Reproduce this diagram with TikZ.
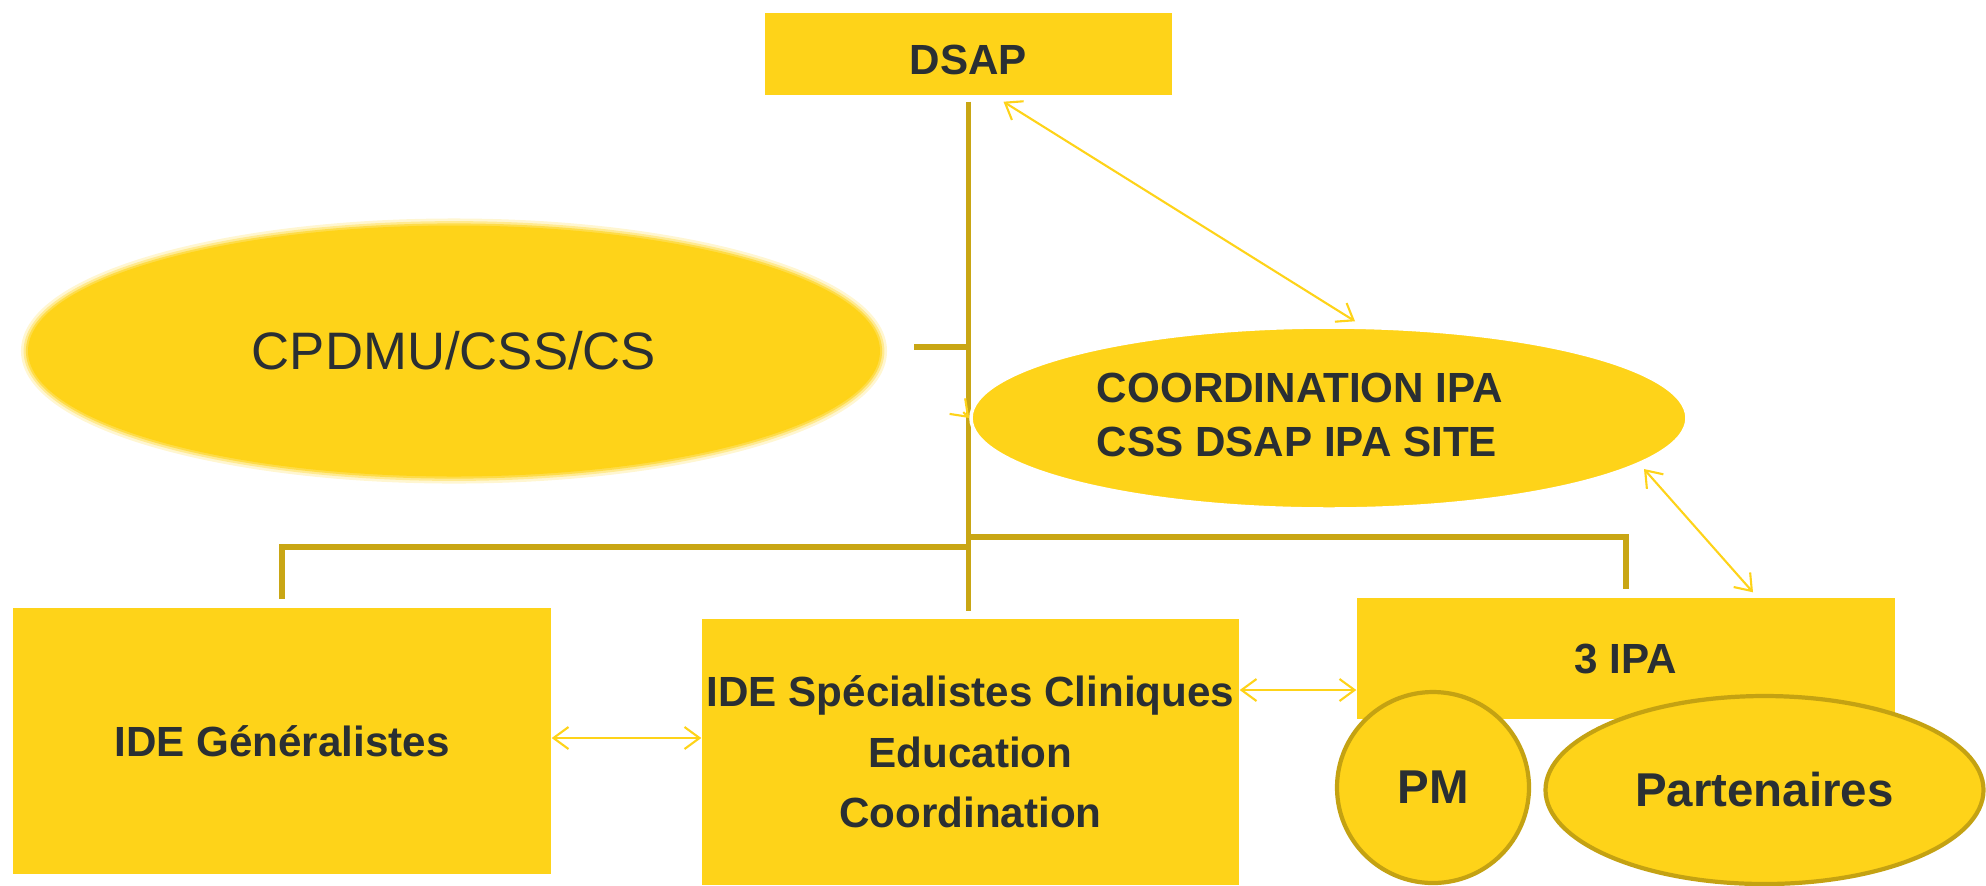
\documentclass[tikz,border=0pt]{standalone}
\usepackage{fontspec}
\setmainfont{Liberation Sans}
\usetikzlibrary{shapes.geometric,arrows.meta}

\definecolor{ipayellow}{RGB}{254,211,25}
\definecolor{ipagold}{RGB}{201,166,20}
\definecolor{ipaedge}{RGB}{196,162,18}
\definecolor{ipatext}{RGB}{42,47,51}

\tikzset{
  box/.style={rectangle, fill=ipayellow, inner sep=0pt, text=ipatext,
    font=\bfseries\fontsize{12}{17.2}\selectfont, align=center},
  bubble/.style={ellipse, fill=ipayellow, inner sep=0pt, text=ipatext},
  ringed/.style={bubble, draw=ipaedge, line width=1.2pt,
    font=\bfseries\fontsize{13.5}{16}\selectfont},
  trunk/.style={ipagold, line width=1.5pt},
  link/.style={ipayellow, line width=0.6pt, <->,
    >={Straight Barb[length=1.5mm,width=2.2mm]}},
}

\begin{document}
\begin{tikzpicture}
    \useasboundingbox (0,0) rectangle (19.86,-8.85);

    % Define the points of the tree
    \coordinate (D) at (9.685,-0.54);
    \coordinate (C) at (13.29,-4.18);
    \coordinate (stub) at (9.14,-3.47);
    \coordinate (forkL) at (9.685,-5.47);
    \coordinate (forkR) at (9.685,-5.37);

    % Draw the boxes
    \node[box, minimum width=4.07cm, minimum height=0.82cm, text height=0.42cm] (dsap) at (D) {DSAP};
    \node[box, minimum width=5.38cm, minimum height=2.66cm] (gen) at (2.82,-7.41) {IDE Généralistes};
    \node[box, minimum width=5.37cm, minimum height=2.66cm] (spec) at (9.705,-7.52)
        {IDE Spécialistes Cliniques\\Education\\Coordination};
    \node[box, minimum width=5.38cm, minimum height=1.21cm] (ipa) at (16.26,-6.585) {3 IPA};

    % Draw the soft ellipse on the left
    \foreach \w/\o in {4/0.2,2.5/0.35,1.2/0.6}
        \draw[ipayellow, line width=\w pt, opacity=\o] (4.54,-3.51) ellipse [x radius=4.26cm, y radius=1.255cm];
    \node[bubble, minimum width=8.52cm, minimum height=2.51cm,
        font=\fontsize{15}{18}\selectfont] (cpdmu) at (4.54,-3.51) {CPDMU/CSS/CS};

    % Draw the tree lines
    \draw[trunk] ([yshift=-0.6mm]dsap.south) -- ([yshift=0.7mm]dsap.south |- spec.north);
    \draw[trunk] (stub) -- (stub -| dsap.south);
    \draw[trunk] (forkL) -| ([yshift=0.8mm]gen.north);
    \draw[trunk] (forkR) -| ([yshift=0.8mm]ipa.north);

    % Draw the coordination ellipse
    \node[bubble, draw=white, line width=1pt, minimum width=7.16cm, minimum height=1.82cm] (coord) at (C) {};
    \node[align=left, text=ipatext, font=\bfseries\fontsize{12}{15.4}\selectfont] (coordtext) at (13.0,-4.15)
        {COORDINATION IPA\\CSS DSAP IPA SITE};

    % Draw the ellipses under 3 IPA
    \node[ringed, minimum width=1.92cm, minimum height=1.91cm] (pm) at (14.33,-7.875) {PM};
    \node[ringed, minimum width=4.38cm, minimum height=1.88cm] (part) at (17.645,-7.9) {Partenaires};

    % Draw the links
    \draw[link] ([xshift=3.5mm,yshift=-0.6mm]dsap.south) -- ([xshift=2.6mm,yshift=0.4mm]coord.north);
    \draw[link] ([xshift=3.15cm,yshift=-5.1mm]coord.center) -- ([xshift=1.27cm,yshift=0.5mm]ipa.north);
    \draw[link] ([yshift=0.3mm]gen.east) -- ([yshift=0.3mm]gen.east -| spec.west);
    \draw[link] ([yshift=6.2mm]spec.east) -- ([yshift=6.2mm]spec.east -| ipa.west);
    \draw[link, ->] ([shift={(-0.6mm,0.6mm)}]coord.west) -- (coord.west);

\end{tikzpicture}
\end{document}
